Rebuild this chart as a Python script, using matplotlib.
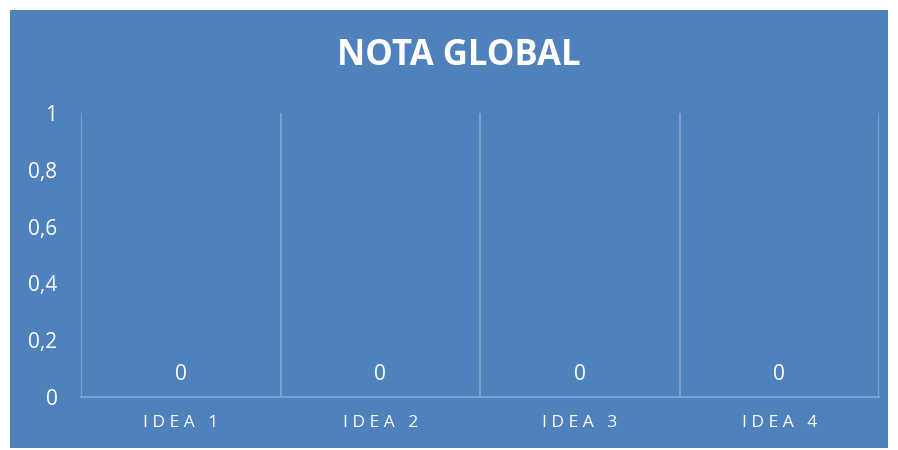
import matplotlib
matplotlib.use('Agg')
import matplotlib.pyplot as plt
from matplotlib.patches import Rectangle
from matplotlib.ticker import FuncFormatter

ideas = ['IDEA 1', 'IDEA 2', 'IDEA 3', 'IDEA 4']
notas = [0, 0, 0, 0]
y_ticks = [0, 0.2, 0.4, 0.6, 0.8, 1]

BLUE = '#4F81BD'
GRID = '#7FA3D3'

plt.rcParams['font.family'] = ['Open Sans', 'DejaVu Sans']

def spaced(s):
    return ' '.join(s)

def main():
    W, H = 898, 450
    fig = plt.figure(figsize=(W / 100, H / 100), dpi=100)
    fig.patch.set_facecolor('white')
    fig.patches.append(Rectangle((10 / W, 2 / H), 878 / W, 438 / H,
                                 transform=fig.transFigure, facecolor=BLUE,
                                 edgecolor='none', zorder=-5))

    ax = fig.add_axes([81 / W, 53 / H, 798 / W, 284 / H])
    ax.set_zorder(2)
    ax.set_facecolor('none')

    x = list(range(len(ideas)))
    bars = ax.bar(x, notas, width=0.6, color='#C0504D')
    ax.bar_label(bars, labels=[str(v) for v in notas], padding=9,
                 color='white', fontsize=15)

    ax.set_xlim(-0.5, len(ideas) - 0.5)
    ax.set_ylim(0, 1)
    ax.set_yticks(y_ticks)
    ax.yaxis.set_major_formatter(FuncFormatter(lambda v, p: ('%g' % v).replace('.', ',')))
    ax.set_xticks(x)
    ax.set_xticklabels([spaced(s) for s in ideas], fontsize=12.5)

    for b in [i - 0.5 for i in range(len(ideas) + 1)]:
        ax.axvline(b, color=GRID, linewidth=1.3, zorder=1)

    for s in ['top', 'right', 'left']:
        ax.spines[s].set_visible(False)
    ax.spines['bottom'].set_color(GRID)
    ax.spines['bottom'].set_linewidth(1.3)

    ax.tick_params(axis='y', length=0, pad=17, labelsize=15, labelcolor='white')
    ax.tick_params(axis='x', length=0, pad=13, labelcolor='white')

    t = fig.text(0.511, 1 - 56 / H, 'NOTA GLOBAL', ha='center', va='center',
                 color='white', fontsize=25, fontweight='bold')
    t.set_zorder(3)

    fig.savefig('out.png', dpi=100)

if __name__ == '__main__':
    main()
